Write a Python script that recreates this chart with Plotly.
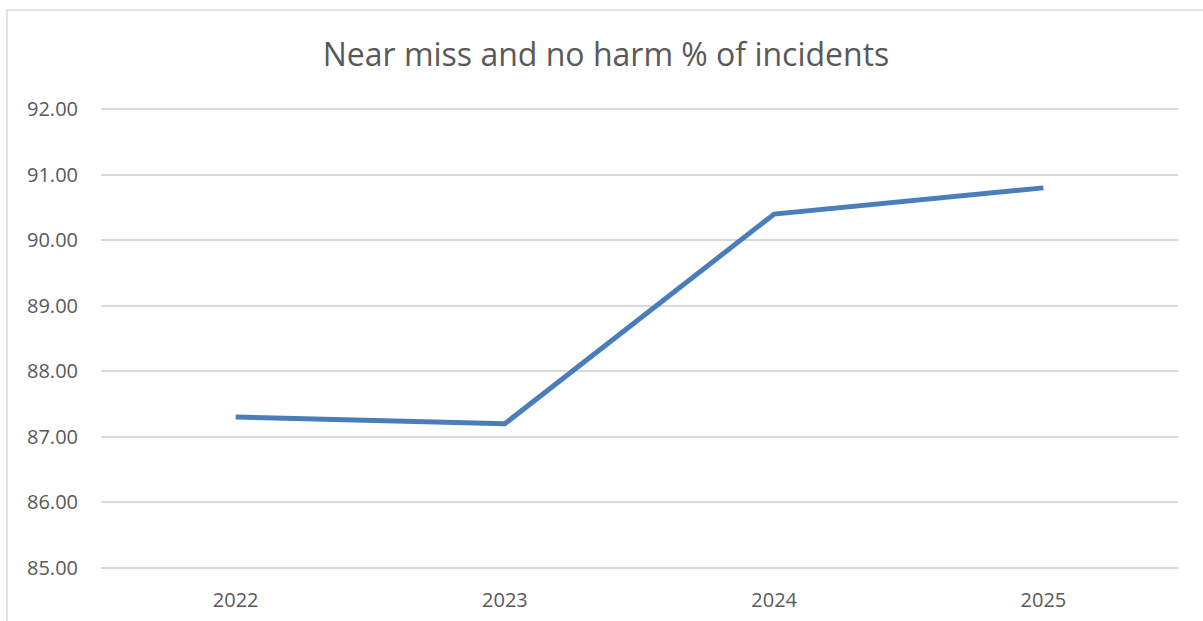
import plotly.graph_objects as go

years = ["2022", "2023", "2024", "2025"]
values = [87.3, 87.2, 90.4, 90.8]
title_text = "Near miss and no harm % of incidents"

W, H = 1203, 621
ML, MR, MT, MB = 101, 25, 106, 50
pw, ph = W - ML - MR, H - MT - MB

def px_x(x):
    return (x - ML) / pw

def px_y(y):
    return (H - MB - y) / ph

fig = go.Figure()
fig.add_trace(go.Scatter(
    x=years, y=values, mode="lines",
    line=dict(color="#4A7EBB", width=5),
    showlegend=False, hoverinfo="skip",
))

fig.update_layout(
    width=W, height=H,
    margin=dict(l=ML, r=MR, t=MT, b=MB),
    paper_bgcolor="white", plot_bgcolor="white",
    font=dict(family="Open Sans, Liberation Sans, sans-serif", color="#595959"),
    title=dict(text=title_text, x=606 / W, xref="container", xanchor="center",
               y=1 - 55 / H, yanchor="middle", yref="container", automargin=False,
               font=dict(size=32, color="#595959")),
    xaxis=dict(showgrid=False, zeroline=False, showline=False, ticks="",
               tickfont=dict(size=20), ticklabelstandoff=15, automargin=False,
               range=[-0.5, 3.5]),
    yaxis=dict(range=[84.95, 92.05], tickvals=[85, 86, 87, 88, 89, 90, 91, 92],
               tickformat=".2f", automargin=False,
               showgrid=True, gridcolor="#D9D9D9", gridwidth=1.5,
               zeroline=False, showline=False, ticks="",
               tickfont=dict(size=20), ticklabelstandoff=22),
    shapes=[dict(type="rect", xref="paper", yref="paper",
                 x0=px_x(7), x1=px_x(1215), y0=px_y(635), y1=px_y(10),
                 line=dict(color="#D9D9D9", width=1.5), fillcolor="rgba(0,0,0,0)",
                 layer="below")],
)

fig.write_html("out.html")
